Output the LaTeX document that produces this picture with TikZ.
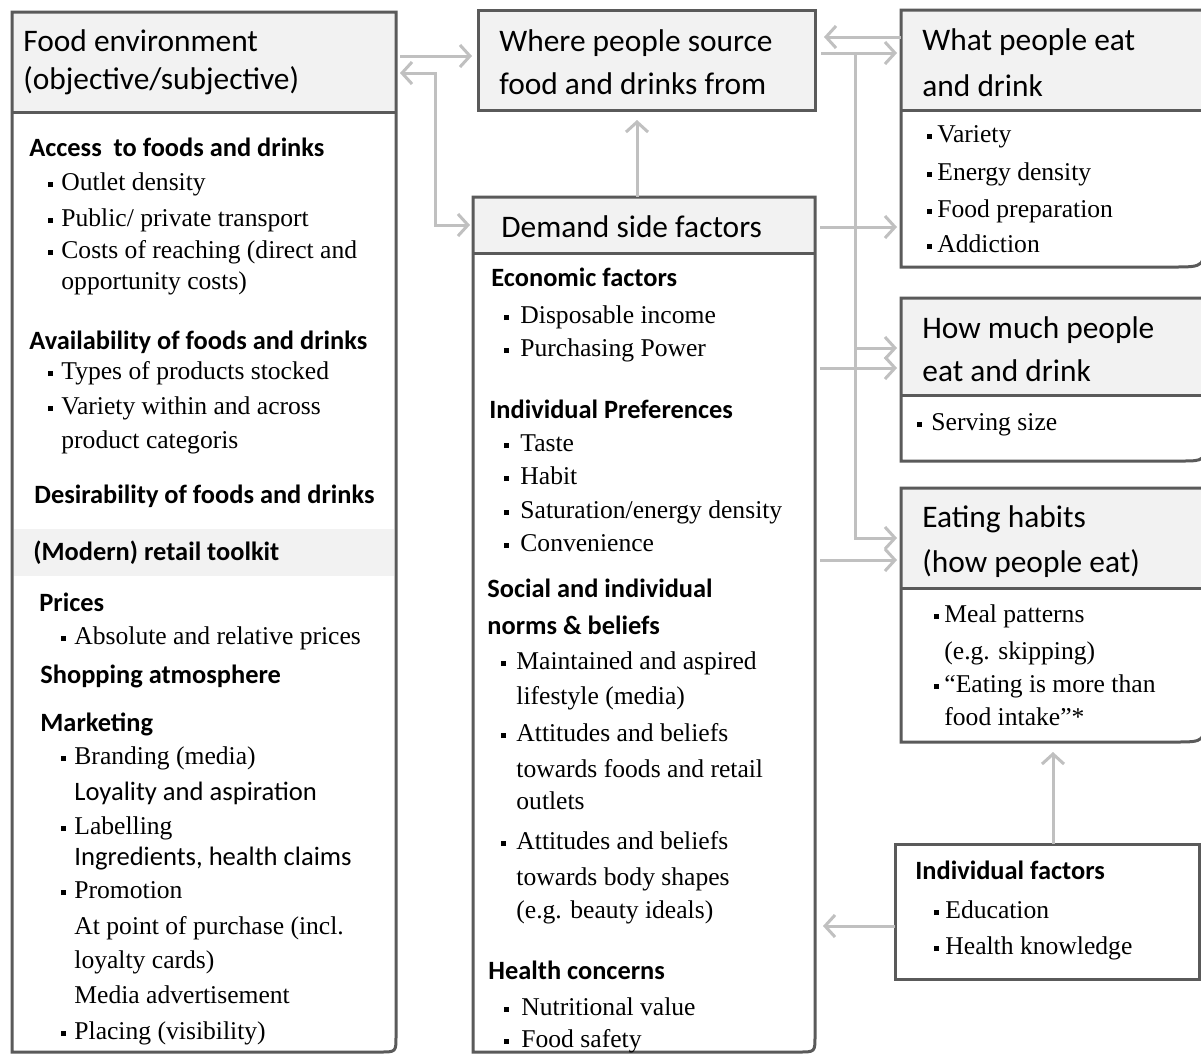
\documentclass[tikz,border=0pt]{standalone}
\usepackage{fontspec}
\setmainfont{Liberation Serif}
\newfontfamily\hdfont{Carlito}
\usetikzlibrary{arrows.meta,calc}
\definecolor{boxc}{HTML}{5A5A5A}
\definecolor{arrc}{HTML}{C0C0C0}
\definecolor{hdc}{HTML}{F2F2F2}
\newcommand{\bl}[1][4pt]{\leavevmode\llap{\rule[1.7pt]{2.5pt}{2.5pt}\hspace{#1}}}
\newcommand{\headbox}[3]{%
  \path (0,#2) coordinate (#1-hy);
  \fill[hdc] (#1.north west) rectangle (#1.east |- #1-hy);
  \draw[boxline] (#1.north west) -- (#1.north east) -- ([yshift=#3]#1.south east)
     .. controls (#1.south east) .. ([xshift=-#3]#1.south east) -- (#1.south west) -- cycle;
  \draw[boxline] (#1.west |- #1-hy) -- (#1.east |- #1-hy);
}
\begin{document}
\begin{tikzpicture}[x=0.5pt,y=-0.5pt,
  frame/.style={draw=none,inner sep=0pt,outer sep=0pt,anchor=north west},
  hd/.style={anchor=mid west,inner sep=0pt,yshift=-2.5pt,font=\hdfont\fontsize{15.7}{18}\selectfont},
  sh/.style={anchor=mid west,inner sep=0pt,yshift=-1.5pt,font=\hdfont\bfseries\fontsize{13.2}{15}\selectfont},
  tx/.style={anchor=mid west,inner sep=0pt,yshift=-1.5pt,font=\fontsize{12.8}{15}\selectfont},
  lt/.style={anchor=mid west,inner sep=0pt,yshift=-1.5pt,font=\hdfont\fontsize{13.3}{15}\selectfont},
  boxline/.style={draw=boxc,line width=1.5pt},
  arr/.style={draw=arrc,line width=1.5pt,-{Straight Barb[length=5pt,width=11pt]}},
  arrtwo/.style={draw=arrc,line width=1.5pt,{Straight Barb[length=5pt,width=11pt]}-{Straight Barb[length=5pt,width=11pt]}}
]
\useasboundingbox (0,0) rectangle (1201,1056);
\fill[white] (0,0) rectangle (1201,1056);

% frames
\node[frame,minimum width=192pt,minimum height=520pt] (fe) at (12,12) {};
\node[frame,minimum width=168.5pt,minimum height=50pt] (ws) at (478,10) {};
\node[frame,minimum width=171pt,minimum height=427.5pt] (ds) at (473,197) {};
\node[frame,minimum width=152pt,minimum height=128.5pt] (we) at (901,10) {};
\node[frame,minimum width=152pt,minimum height=81.5pt] (hm) at (901,298) {};
\node[frame,minimum width=152pt,minimum height=127pt] (eh) at (901,488) {};
\node[frame,minimum width=152pt,minimum height=67.5pt] (inf) at (895,844) {};

\headbox{fe}{112}{8pt}
\headbox{ds}{253}{8pt}
\headbox{we}{110}{16pt}
\headbox{hm}{395}{12pt}
\headbox{eh}{588}{15pt}
\filldraw[boxline,fill=hdc] (ws.north west) rectangle (ws.south east);
\draw[boxline] (inf.north west) rectangle (inf.south east);
\fill[hdc] (14,529) rectangle (394,576);

% ---------- left box texts
\node[hd] (fe1) at (23,42) {Food environment};
\node[hd] (fe2) at (23,80) {(objective/subjective)};
\node[sh] (fe3) at (29,149) {Access\ \ to foods and drinks};
\node[tx] (fe4) at (61,183) {\bl Outlet density};
\node[tx] (fe5) at (61,219) {\bl Public/ private transport};
\node[tx] (fe6) at (61,251) {\bl Costs of reaching (direct and};
\node[tx] (fe7) at (61,282) {opportunity costs)};
\node[sh] (fe8) at (29,342) {Availability of foods and drinks};
\node[tx] (fe9) at (61,372) {\bl Types of products stocked};
\node[tx] (fe10) at (61,407) {\bl Variety within and across};
\node[tx] (fe11) at (61,441) {product categoris};
\node[sh] (fe12) at (34,496) {Desirability of foods and drinks};
\node[sh] (fe13) at (33,553) {(Modern) retail toolkit};
\node[sh] (fe14) at (39,604) {Prices};
\node[tx] (fe15) at (74,637) {\bl Absolute and relative prices};
\node[sh] (fe16) at (40,676) {Shopping atmosphere};
\node[sh] (fe17) at (40,724) {Marketing};
\node[tx] (fe18) at (74,757) {\bl Branding (media)};
\node[lt] (fe19) at (74,793) {Loyality and aspiration};
\node[tx] (fe20) at (74,827) {\bl Labelling};
\node[lt] (fe21) at (74,858) {Ingredients, health claims};
\node[tx] (fe22) at (74,891) {\bl Promotion};
\node[tx] (fe23) at (74,927) {At point of purchase (incl.};
\node[tx] (fe24) at (74,961) {loyalty cards)};
\node[tx] (fe25) at (74,996) {Media advertisement};
\node[tx] (fe26) at (74,1032) {\bl Placing (visibility)};

% ---------- where
\node[hd] (ws1) at (499,42) {Where people source};
\node[hd] (ws2) at (499,85) {food and drinks from};

% ---------- demand side
\node[hd] (ds1) at (501,228) {Demand side factors};
\node[sh] (ds2) at (491,279) {Economic factors};
\node[tx] (ds3) at (520,316) {\bl[5.5pt]Disposable income};
\node[tx] (ds4) at (520,349) {\bl[5.5pt]Purchasing Power};
\node[sh] (ds5) at (489,411) {Individual Preferences};
\node[tx] (ds6) at (520,444) {\bl[5.5pt]Taste};
\node[tx] (ds7) at (520,477) {\bl[5.5pt]Habit};
\node[tx] (ds8) at (520,511) {\bl[5.5pt]Saturation/energy density};
\node[tx] (ds9) at (520,544) {\bl[5.5pt]Convenience};
\node[sh] (ds10) at (487,590) {Social and individual};
\node[sh] (ds11) at (487,627) {norms \& beliefs};
\node[tx] (ds12) at (516,662) {\bl[5pt]Maintained and aspired};
\node[tx] (ds13) at (516,697) {lifestyle (media)};
\node[tx] (ds14) at (516,734) {\bl[5pt]Attitudes and beliefs};
\node[tx] (ds15) at (516,770) {towards foods and retail};
\node[tx] (ds16) at (516,802) {outlets};
\node[tx] (ds17) at (516,842) {\bl[5pt]Attitudes and beliefs};
\node[tx] (ds18) at (516,878) {towards body shapes};
\node[tx] (ds19) at (516,911) {(e.g. beauty ideals)};
\node[sh] (ds20) at (488,972) {Health concerns};
\node[tx] (ds21) at (521,1008) {\bl[6pt]Nutritional value};
\node[tx] (ds22) at (521,1040) {\bl[6pt]Food safety};

% ---------- what people eat
\node[hd] (we1) at (922,41) {What people eat};
\node[hd] (we2) at (922,87) {and drink};
\node[tx] (we3) at (937,135) {\bl[2.5pt]Variety};
\node[tx] (we4) at (937,173) {\bl[2.5pt]Energy density};
\node[tx] (we5) at (937,210) {\bl[2.5pt]Food preparation};
\node[tx] (we6) at (937,245) {\bl[2.5pt]Addiction};

% ---------- how much
\node[hd] (hm1) at (922,329) {How much people};
\node[hd] (hm2) at (922,372) {eat and drink};
\node[tx] (hm3) at (931,423) {\bl[4.5pt]Serving size};

% ---------- eating habits
\node[hd] (eh1) at (922,518) {Eating habits};
\node[hd] (eh2) at (922,563) {(how people eat)};
\node[tx] (eh3) at (944,615) {\bl[2.5pt]Meal patterns};
\node[tx] (eh4) at (944,652) {(e.g. skipping)};
\node[tx] (eh5) at (944,685) {\bl[2.5pt]“Eating is more than};
\node[tx] (eh6) at (944,718) {food intake”*};

% ---------- individual factors
\node[sh] (inf1) at (915,872) {Individual factors};
\node[tx] (inf2) at (945,911) {\bl[3pt]Education};
\node[tx] (inf3) at (945,947) {\bl[3pt]Health knowledge};

% ---------- connectors
\coordinate (r37) at (0,37);
\coordinate (r53) at (0,53);
\coordinate (r56) at (0,56);
\coordinate (r73) at (0,73);
\coordinate (r225) at (0,225);
\coordinate (r227) at (0,227);
\coordinate (r348) at (0,348);
\coordinate (r368) at (0,368);
\coordinate (r538) at (0,538);
\coordinate (r560) at (0,560);
\coordinate (r926) at (0,926);
\coordinate (cx) at (435,0);
\coordinate (vx) at (855,0);
\coordinate (ux) at (637,0);
\coordinate (ix) at (1053,0);

\draw[arr,shorten <=2pt,shorten >=3pt] (fe.east |- r56) -- (ws.west |- r56);
\draw[arrtwo,shorten <=2pt,shorten >=1.5pt] (fe.east |- r73) -- (cx |- r73) -- (cx |- r225) -- (ds.west |- r225);
\draw[arr,shorten >=5pt] (ux |- ds.north) -- (ux |- ws.south);
\draw[arr,shorten >=4.5pt] (we.west |- r37) -- (ws.east |- r37);
\draw[arr,shorten <=3pt,shorten >=2pt] (ws.east |- r53) -- (we.west |- r53);
\draw[arr,shorten >=2pt] (vx |- r53) -- (vx |- r538) -- (eh.west |- r538);
\draw[arr,shorten >=2pt] (vx |- r348) -- (hm.west |- r348);
\draw[arr,shorten <=2.5pt,shorten >=2pt] (ds.east |- r227) -- (we.west |- r227);
\draw[arr,shorten <=2.5pt,shorten >=2pt] (ds.east |- r368) -- (hm.west |- r368);
\draw[arr,shorten <=2.5pt,shorten >=2pt] (ds.east |- r560) -- (eh.west |- r560);
\draw[arr,shorten >=5pt] (ix |- inf.north) -- (ix |- eh.south);
\draw[arr,shorten >=4pt] (inf.west |- r926) -- (ds.east |- r926);
\end{tikzpicture}
\end{document}
